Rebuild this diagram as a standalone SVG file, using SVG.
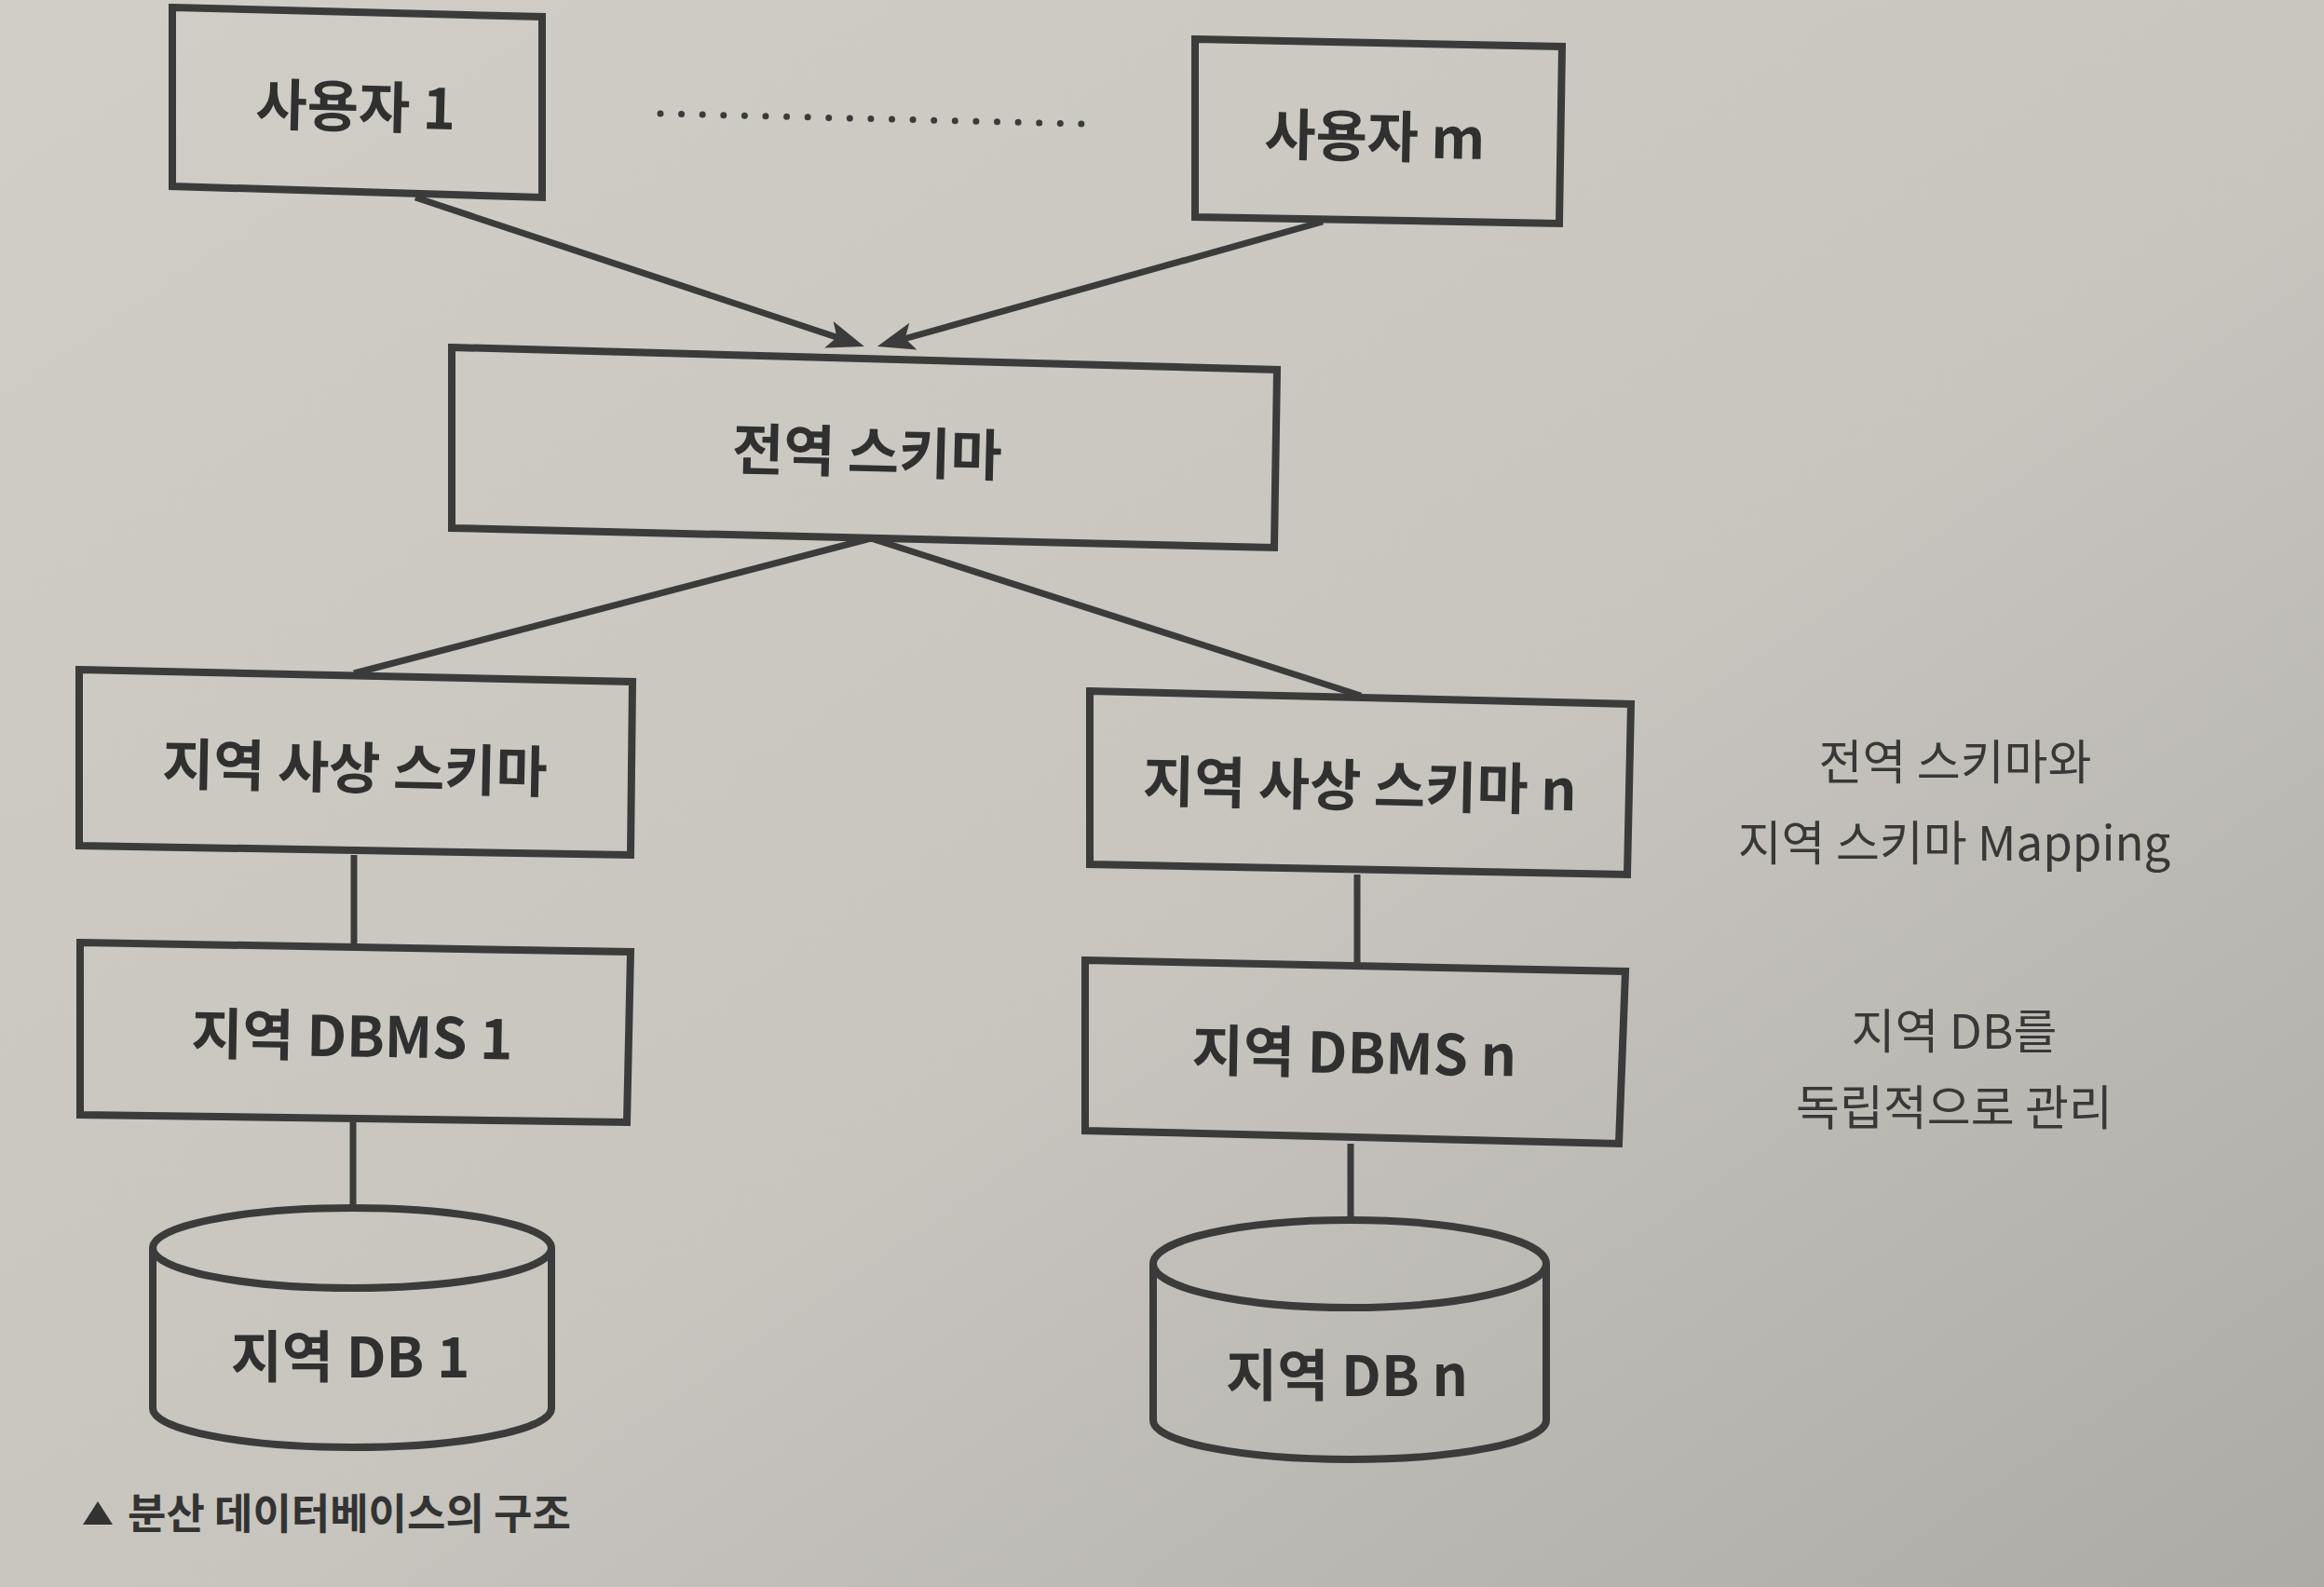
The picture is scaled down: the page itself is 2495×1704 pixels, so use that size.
<svg xmlns="http://www.w3.org/2000/svg" width="2495" height="1704" viewBox="0 0 2495 1704">
  <defs>
    <linearGradient id="bg" x1="0" y1="0" x2="1" y2="1">
      <stop offset="0" stop-color="#d0cec7"/>
      <stop offset="0.55" stop-color="#c7c5be"/>
      <stop offset="1" stop-color="#adaba5"/>
    </linearGradient>
    <marker id="arrow" viewBox="-22 -17 48 34" refX="0" refY="0" markerWidth="48" markerHeight="34" markerUnits="userSpaceOnUse" orient="auto">
      <path d="M22,0 L-18,-15 L-9,0 L-18,15 Z" fill="#3b3b3b"/>
    </marker>
    <style>
      .box { fill: none; stroke: #3b3b3b; stroke-width: 8; stroke-linejoin: miter; }
      .conn { fill: none; stroke: #3b3b3b; stroke-width: 7; }
      .lbl { font-family: "Noto Sans CJK KR", "Noto Sans", sans-serif; font-size: 60px; font-weight: 700; fill: #303030; text-anchor: middle; dominant-baseline: central; }
      .note { font-family: "Noto Sans CJK KR", "Noto Sans", sans-serif; font-size: 51px; font-weight: 400; fill: #383838; text-anchor: middle; dominant-baseline: central; }
      .cap { font-family: "Noto Sans CJK KR", "Noto Sans", sans-serif; font-size: 45px; font-weight: 700; fill: #333333; dominant-baseline: central; }
    </style>
  </defs>

  <rect x="0" y="0" width="2495" height="1704" fill="url(#bg)"/>

  <g id="connectors">
    <line class="conn" x1="446" y1="212" x2="907" y2="365" marker-end="url(#arrow)"/>
    <line class="conn" x1="1420" y1="238" x2="963" y2="366" marker-end="url(#arrow)"/>
    <line class="conn" x1="935" y1="578" x2="380" y2="723"/>
    <line class="conn" x1="935" y1="578" x2="1461" y2="747"/>
    <line class="conn" x1="380" y1="918" x2="380" y2="1016"/>
    <line class="conn" x1="379" y1="1205" x2="379" y2="1297"/>
    <line class="conn" x1="1457" y1="939" x2="1457" y2="1036"/>
    <line class="conn" x1="1450" y1="1228" x2="1450" y2="1309"/>
    <line class="conn" x1="709" y1="122" x2="1162" y2="133" stroke-width="14" stroke-linecap="round" stroke-dasharray="0 22.6"/>
  </g>

  <g id="user1">
    <polygon class="box" points="185,8 582,18 582,212 185,200"/>
    <text class="lbl" x="382" y="110" transform="rotate(1.4 382 110)">사용자 1</text>
  </g>
  <g id="userm">
    <polygon class="box" points="1283,42 1677,50 1674,240 1283,233"/>
    <text class="lbl" x="1476" y="142" transform="rotate(1.2 1476 142)">사용자 m</text>
  </g>
  <g id="global-schema">
    <polygon class="box" points="485,373 1371,397 1368,588 485,567"/>
    <text class="lbl" x="931" y="481" transform="rotate(1.4 931 481)">전역 스키마</text>
  </g>
  <g id="local-map-1">
    <polygon class="box" points="85,719 679,732 677,918 85,908"/>
    <text class="lbl" x="381" y="820" transform="rotate(1.2 381 820)">지역 사상 스키마</text>
  </g>
  <g id="local-map-n">
    <polygon class="box" points="1170,742 1751,756 1747,939 1170,928"/>
    <text class="lbl" x="1460" y="839" transform="rotate(1.2 1460 839)">지역 사상 스키마 n</text>
  </g>
  <g id="local-dbms-1">
    <polygon class="box" points="86,1012 677,1022 673,1205 86,1197"/>
    <text class="lbl" x="378" y="1108" transform="rotate(1 378 1108)">지역 DBMS 1</text>
  </g>
  <g id="local-dbms-n">
    <polygon class="box" points="1165,1031 1745,1043 1738,1228 1165,1214"/>
    <text class="lbl" x="1454" y="1126" transform="rotate(1 1454 1126)">지역 DBMS n</text>
  </g>
  <g id="local-db-1">
    <path class="box" d="M164,1340 L164,1512 A214,42 0 0 0 592,1512 L592,1340"/>
    <ellipse class="box" cx="378" cy="1340" rx="214" ry="43"/>
    <text class="lbl" x="376" y="1452">지역 DB 1</text>
  </g>
  <g id="local-db-n">
    <path class="box" d="M1238,1357 L1238,1525 A211,42 0 0 0 1660,1525 L1660,1357"/>
    <ellipse class="box" cx="1449" cy="1357" rx="211" ry="47"/>
    <text class="lbl" x="1446" y="1472">지역 DB n</text>
  </g>

  <g id="note-mapping">
    <text class="note" x="2099" y="815">전역 스키마와</text>
    <text class="note" x="2098" y="902">지역 스키마 Mapping</text>
  </g>
  <g id="note-dbms">
    <text class="note" x="2098" y="1104">지역 DB를</text>
    <text class="note" x="2098" y="1186">독립적으로 관리</text>
  </g>

  <g id="caption">
    <polygon points="89,1637 105,1612 121,1637" fill="#333333"/>
    <text class="cap" x="137" y="1622">분산 데이터베이스의 구조</text>
  </g>
</svg>
